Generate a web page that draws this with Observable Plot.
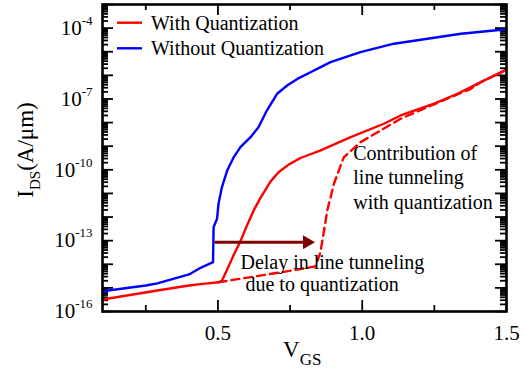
<!DOCTYPE html>
<html>
<head>
<meta charset="utf-8">
<script src="https://cdn.jsdelivr.net/npm/d3@7"></script>
<script src="https://cdn.jsdelivr.net/npm/@observablehq/plot@0.6"></script>
<style>
  html, body { margin: 0; padding: 0; background: #fff; }
  #chart svg { display: block; }
  #chart svg text { font-family: "Liberation Serif", "Times New Roman", "DejaVu Serif", serif !important; }
</style>
</head>
<body>
<div id="chart"></div>
<script>
// ---- data (V_GS in volts, log10 of I_DS in A/um) ----
const blueV = [0.10, 0.25, 0.29, 0.40, 0.44, 0.483, 0.485, 0.497, 0.502, 0.514, 0.532, 0.555, 0.578, 0.613, 0.641, 0.670, 0.705, 0.740, 0.775, 0.821, 0.856, 0.890, 0.994, 1.110, 1.226, 1.342, 1.50];
const blueLogI = [-15.14, -14.90, -14.81, -14.43, -14.15, -13.91, -12.43, -12.07, -11.44, -10.73, -10.03, -9.46, -9.04, -8.62, -8.19, -7.48, -6.78, -6.43, -6.15, -5.87, -5.65, -5.44, -5.02, -4.66, -4.45, -4.24, -4.05];

const redV = [0.10, 0.29, 0.40, 0.44, 0.502, 0.514, 0.532, 0.555, 0.578, 0.601, 0.624, 0.647, 0.682, 0.710, 0.745, 0.786, 0.856, 0.960, 1.075, 1.133, 1.249, 1.330, 1.411, 1.50];
const redLogI = [-15.49, -15.11, -14.90, -14.84, -14.76, -14.69, -14.22, -13.60, -13.02, -12.35, -11.72, -11.20, -10.50, -10.10, -9.78, -9.50, -9.18, -8.62, -8.05, -7.70, -7.20, -6.78, -6.29, -5.76];

const dashV = [0.502, 0.728, 0.838, 0.855, 0.862, 0.879, 0.902, 0.936, 0.994, 1.063, 1.133, 1.225, 1.306, 1.375, 1.411, 1.50];
const dashLogI = [-14.76, -14.32, -14.09, -13.50, -12.99, -11.72, -10.59, -9.47, -8.83, -8.34, -7.84, -7.35, -6.93, -6.58, -6.29, -5.76];

const seriesNames = ["With Quantization", "Without Quantization"];
const seriesColors = ["#ff0000", "#0000ff"];
const xTickLabels = [0.5, 1.0, 1.5];
const xMinorTicks = [0.25, 0.75, 1.25];
const yLabelExps = [-16, -13, -10, -7, -4];
const yDecadeExps = d3.range(-16, -2);

// annotations (data space)
const arrowFrom = {V: 0.509, logI: -13.07};
const arrowTo = {V: 0.838, logI: -13.07};
const notes = [
  {text: "Contribution of", V: 0.969, logI: -9.30},
  {text: "line tunneling", V: 0.969, logI: -10.32},
  {text: "with quantization", V: 0.969, logI: -11.38},
  {text: "Delay in line tunneling", V: 0.578, logI: -13.92},
  {text: "due to quantization", V: 0.5955, logI: -14.84}
];

// ---- build tables ----
const toRows = (V, L) => V.map((v, i) => ({V: v, I: Math.pow(10, L[i])}));
const blue = toRows(blueV, blueLogI);
const red = toRows(redV, redLogI);
const dash = toRows(dashV, dashLogI);
const yMajor = yDecadeExps.map(e => Math.pow(10, e));
const yMinor = [];
for (const e of yDecadeExps.slice(0, -1)) for (let k = 2; k <= 9; k++) yMinor.push(k * Math.pow(10, e));
const yLabels = yLabelExps.map(e => Math.pow(10, e));

const W = 532, H = 378, mL = 102, mR = 26, mT = 4, mB = 67;
const fw = W - mL - mR, fh = H - mT - mB;
const font = '"Liberation Serif", "Times New Roman", serif';
const tickW = 1.8;

const svg = Plot.plot({
  width: W, height: H,
  marginLeft: mL, marginRight: mR, marginTop: mT, marginBottom: mB,
  style: {fontFamily: font, fontSize: "20px", background: "#fff", color: "#000"},
  x: {domain: [0.1, 1.5], label: null},
  y: {type: "log", domain: [1e-16, 1e-3], label: null},
  marks: [
    // inward ticks, all four sides
    Plot.tickY(yMajor, {y: d => d, insetRight: fw - 11, stroke: "#000", strokeWidth: tickW}),
    Plot.tickY(yMinor, {y: d => d, insetRight: fw - 6, stroke: "#000", strokeWidth: tickW}),
    Plot.tickY(yMajor, {y: d => d, insetLeft: fw - 11, stroke: "#000", strokeWidth: tickW}),
    Plot.tickY(yMinor, {y: d => d, insetLeft: fw - 6, stroke: "#000", strokeWidth: tickW}),
    Plot.tickX(xTickLabels, {x: d => d, insetTop: fh - 11, stroke: "#000", strokeWidth: tickW}),
    Plot.tickX(xMinorTicks, {x: d => d, insetTop: fh - 6, stroke: "#000", strokeWidth: tickW}),
    Plot.tickX(xTickLabels, {x: d => d, insetBottom: fh - 11, stroke: "#000", strokeWidth: tickW}),
    Plot.tickX(xMinorTicks, {x: d => d, insetBottom: fh - 6, stroke: "#000", strokeWidth: tickW}),
    Plot.axisX({ticks: xTickLabels, tickFormat: d3.format(".1f"), tickSize: 0, tickPadding: 14, fontSize: 21}),
    Plot.axisY({ticks: yLabels, tickFormat: d => "10^" + Math.round(Math.log10(d)), tickSize: 0, tickPadding: 10, fontSize: 21}),
    // curves
    Plot.line(blue, {x: "V", y: "I", stroke: seriesColors[1], strokeWidth: 2.4}),
    Plot.line(dash, {x: "V", y: "I", stroke: seriesColors[0], strokeWidth: 2.4, strokeDasharray: "8,5"}),
    Plot.line(red, {x: "V", y: "I", stroke: seriesColors[0], strokeWidth: 2.4}),
    // delay arrow
    Plot.link([0], {x1: () => arrowFrom.V, y1: () => Math.pow(10, arrowFrom.logI), x2: () => arrowTo.V, y2: () => Math.pow(10, arrowTo.logI), stroke: "#800000", strokeWidth: 3, dx: -6}),
    Plot.dot([0], {x: () => arrowTo.V, y: () => Math.pow(10, arrowTo.logI), symbol: "triangle", r: 5.2, rotate: 90, fill: "#800000", dx: -8.5}),
    // notes
    Plot.text(notes, {x: "V", y: d => Math.pow(10, d.logI), text: "text", textAnchor: "start", fontSize: 20, fill: "#000"}),
    Plot.frame({stroke: "#000", strokeWidth: 2.6})
  ]
});

const NS = "http://www.w3.org/2000/svg";
// superscripts on y tick labels
svg.querySelectorAll('g[aria-label="y-axis tick label"] text').forEach(t => {
  const exp = t.textContent.split("^")[1];
  t.textContent = "";
  const base = document.createElementNS(NS, "tspan");
  base.textContent = "10";
  const sup = document.createElementNS(NS, "tspan");
  sup.textContent = exp;
  sup.setAttribute("font-size", "13");
  sup.setAttribute("dy", "-10");
  t.appendChild(base); t.appendChild(sup);
});

const g = d3.select(svg).append("g").attr("fill", "#000").attr("text-anchor", "start");
// axis titles
const yl = g.append("text").attr("transform", "translate(33,150) rotate(-90)").attr("text-anchor", "middle").attr("font-size", 23);
yl.append("tspan").text("I");
yl.append("tspan").attr("font-size", 15).attr("dy", 7).text("DS");
yl.append("tspan").attr("dy", -7).text("(A/\u03bcm)");
const xl = g.append("text").attr("x", 283).attr("y", 357).attr("font-size", 23).attr("text-anchor", "start");
xl.append("tspan").text("V");
xl.append("tspan").attr("font-size", 17).attr("dy", 8).text("GS");

// legend
[22.7, 48.3].forEach((y, i) => {
  g.append("line").attr("x1", 117).attr("x2", 142).attr("y1", y).attr("y2", y).attr("stroke", seriesColors[i]).attr("stroke-width", 2.4);
  g.append("text").attr("x", 151).attr("y", y + 6.8).attr("font-size", 20).attr("text-anchor", "start").text(seriesNames[i]);
});

document.getElementById("chart").appendChild(svg);
</script>
</body>
</html>
